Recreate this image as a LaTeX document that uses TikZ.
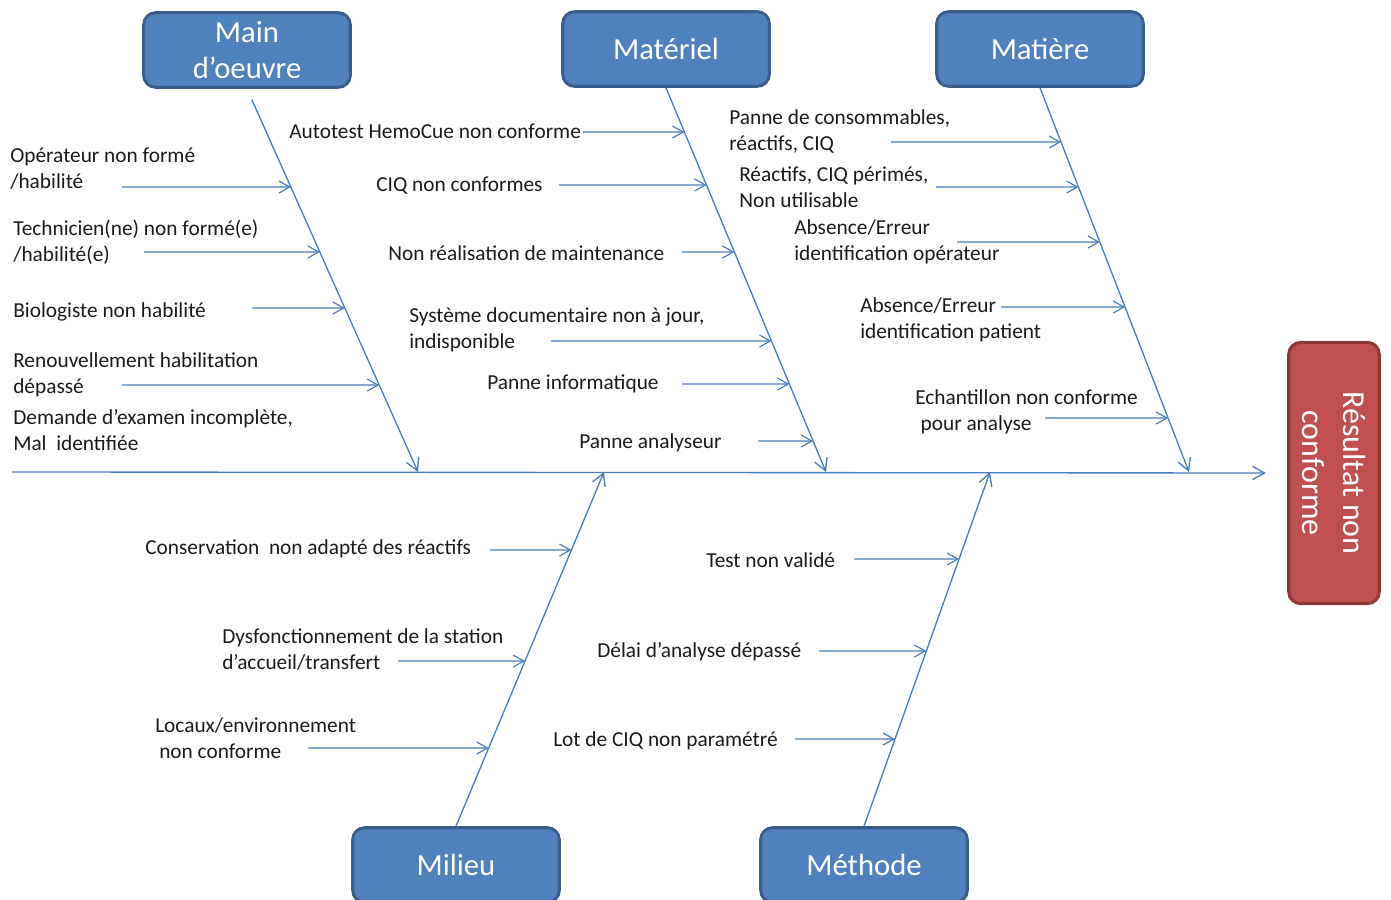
\documentclass[tikz,border=0pt]{standalone}
\usepackage{fontspec}
\setmainfont{Carlito}
\usetikzlibrary{arrows.meta}
\definecolor{bonecol}{HTML}{4A7EBB}
\definecolor{boxfill}{HTML}{4F81BD}
\definecolor{boxline}{HTML}{385D8A}
\definecolor{resfill}{HTML}{C0504D}
\definecolor{resline}{HTML}{8C3836}
\definecolor{txt}{HTML}{1A1A1A}

% cause: name, bone, text x, text y, text, arrow x, arrow y
\newcommand\cause[7]{%
  \node[lbl] (#1) at (#3,#4) {#5};
  \coordinate (#1s) at (#6,#7);
  \coordinate (#1h) at (#6+10,#7);
  \draw[arr] (#1s) -- (intersection of #2 and #1s--#1h);
}

\begin{document}
\begin{tikzpicture}[x=0.75pt,y=-0.75pt,
  cat/.style={draw=boxline,fill=boxfill,line width=2.2pt,rounded corners=9pt,
    minimum width=155pt,minimum height=56pt,text=white,align=center,
    font=\fontsize{23}{27}\selectfont},
  lbl/.style={anchor=west,align=left,inner sep=0pt,text=txt,yshift=-1.5pt,
    font=\fontsize{16}{19.5}\selectfont},
  bone/.style={draw=bonecol,line width=1pt,-{Straight Barb[length=9pt,width=10pt]}},
  arr/.style={draw=bonecol,line width=0.9pt,-{Straight Barb[length=8pt,width=9pt]}}]
\clip (0,0) rectangle (1391,899);
\useasboundingbox (0,0) rectangle (1391,899);

% categories
\node[cat] (mo) at (247,50) {Main\\d’oeuvre};
\node[cat] (mat) at (666,49) {Matériel};
\node[cat] (mtr) at (1040,49) {Matière};
\node[cat] (mil) at (456,865) {Milieu};
\node[cat] (met) at (864,865) {Méthode};
\node[draw=resline,fill=resfill,line width=2.2pt,rounded corners=9pt,rotate=-90,
  minimum width=196pt,minimum height=68pt,text=white,align=center,
  font=\fontsize{24}{31}\selectfont] (res) at (1334,473) {Résultat non\\conforme};

% spine and bones
\coordinate (spL) at (12,472);
\coordinate (moB) at (418,472);
\coordinate (matB) at (826,472);
\coordinate (mtrB) at (1189,472);
\coordinate (milT) at (604,472);
\coordinate (metT) at (990,472);
\draw[bone,shorten >=16pt] (spL) -- (res.south);
\draw[bone,shorten <=9pt] (mo.south) -- (moB);
\draw[bone] (mat.south) -- (matB);
\draw[bone] (mtr.south) -- (mtrB);
\draw[bone] (mil.north) -- (milT);
\draw[bone] (met.north) -- (metT);

% Main d'oeuvre
\cause{c1}{mo.south--moB}{10}{167}{Opérateur non formé\\/habilité}{122}{187}
\cause{c2}{mo.south--moB}{13}{240}{Technicien(ne) non formé(e)\\/habilité(e)}{144}{252}
\cause{c3}{mo.south--moB}{13}{310}{Biologiste non habilité}{252}{308}
\cause{c4}{mo.south--moB}{13}{373}{Renouvellement habilitation\\dépassé}{122}{385}
\node[lbl] (c5) at (13,428) {Demande d’examen incomplète,\\Mal\ \ identifiée};

% Materiel
\cause{m1}{mat.south--matB}{289}{129}{Autotest HemoCue non conforme}{583}{132}
\cause{m2}{mat.south--matB}{376}{184}{CIQ non conformes}{559}{185}
\cause{m3}{mat.south--matB}{388}{251}{Non réalisation de maintenance}{682}{252}
\cause{m4}{mat.south--matB}{409}{328}{Système documentaire non à jour,\\indisponible}{551}{341}
\cause{m5}{mat.south--matB}{487}{382}{Panne informatique}{682}{384}
\cause{m6}{mat.south--matB}{579}{441}{Panne analyseur}{758}{441}

% Matiere
\cause{t1}{mtr.south--mtrB}{729}{130}{Panne de consommables,\\réactifs, CIQ}{891}{142}
\cause{t2}{mtr.south--mtrB}{739}{185}{Réactifs, CIQ périmés,\\Non utilisable}{936}{187}
\cause{t3}{mtr.south--mtrB}{794}{240}{Absence/Erreur\\identification opérateur}{957}{242}
\cause{t4}{mtr.south--mtrB}{860}{318}{Absence/Erreur\\identification patient}{1001}{307}
\cause{t5}{mtr.south--mtrB}{915}{410}{Echantillon non conforme\\\hspace{4pt}pour analyse}{1045}{418}

% Milieu
\cause{l1}{mil.north--milT}{145}{547}{Conservation\ \ non adapté des réactifs}{490}{550}
\cause{l2}{mil.north--milT}{222}{648}{Dysfonctionnement de la station\\d’accueil/transfert}{398}{661}
\cause{l3}{mil.north--milT}{155}{736}{Locaux/environnement\\\hspace{3pt}non conforme}{308}{748}

% Methode
\cause{h1}{met.north--metT}{706}{558}{Test non validé}{854}{559}
\cause{h2}{met.north--metT}{597}{650}{Délai d’analyse dépassé}{819}{651}
\cause{h3}{met.north--metT}{553}{739}{Lot de CIQ non paramétré}{795}{739}

\end{tikzpicture}
\end{document}
